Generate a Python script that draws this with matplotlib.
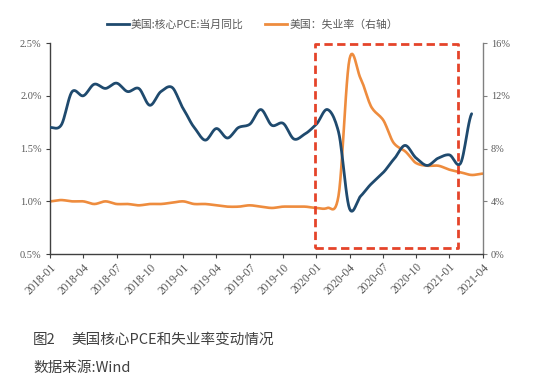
import numpy as np
import matplotlib
matplotlib.use("Agg")
import matplotlib.pyplot as plt
from matplotlib.lines import Line2D

plt.rcParams['font.family'] = ['Noto Sans CJK SC', 'DejaVu Sans']

# ---- data ----
months = ['2018-01','2018-02','2018-03','2018-04','2018-05','2018-06','2018-07','2018-08','2018-09','2018-10','2018-11','2018-12',
          '2019-01','2019-02','2019-03','2019-04','2019-05','2019-06','2019-07','2019-08','2019-09','2019-10','2019-11','2019-12',
          '2020-01','2020-02','2020-03','2020-04','2020-05','2020-06','2020-07','2020-08','2020-09','2020-10','2020-11','2020-12',
          '2021-01','2021-02','2021-03','2021-04']
core_pce = [1.70, 1.72, 2.04, 2.00, 2.11, 2.07, 2.12, 2.04, 2.07, 1.91, 2.04, 2.08,
            1.88, 1.70, 1.58, 1.69, 1.60, 1.70, 1.73, 1.87, 1.72, 1.74, 1.59, 1.64,
            1.73, 1.87, 1.66, 0.93, 1.05, 1.17, 1.27, 1.40, 1.53, 1.41, 1.34, 1.41,
            1.44, 1.36, 1.83]
unemployment = [4.0, 4.1, 4.0, 4.0, 3.8, 4.0, 3.8, 3.8, 3.7, 3.8, 3.8, 3.9,
                4.0, 3.8, 3.8, 3.7, 3.6, 3.6, 3.7, 3.6, 3.5, 3.6, 3.6, 3.6,
                3.5, 3.5, 4.4, 14.8, 13.3, 11.1, 10.2, 8.4, 7.8, 6.9, 6.7, 6.7,
                6.4, 6.2, 6.0, 6.1]
tick_labels = months[::3]
left_ticks = [0.5, 1.0, 1.5, 2.0, 2.5]
right_ticks = [0, 4, 8, 12, 16]
legend_labels = ['美国:核心PCE:当月同比', '美国：失业率（右轴）']
caption_num = '图2'
caption = '美国核心PCE和失业率变动情况'
source = '数据来源:Wind'
highlight_x = [23.9, 36.8]
highlight_y = [0.56, 2.49]

BLUE = '#1F4A6E'
ORANGE = '#EE8C3E'
RED = '#E5442A'
GREY = '#595959'
SERIF = ['Liberation Serif', 'DejaVu Serif']


def smooth(y, n=12):
    """Catmull-Rom style smooth curve through the points (Excel smoothed line)."""
    y = np.asarray(y, float)
    x = np.arange(len(y), dtype=float)
    xs, ys = [], []
    for i in range(len(y) - 1):
        p0 = y[i - 1] if i > 0 else y[i]
        p1, p2 = y[i], y[i + 1]
        p3 = y[i + 2] if i + 2 < len(y) else y[i + 1]
        t = np.linspace(0, 1, n, endpoint=False)
        m1 = (p2 - p0) / 2 * 0.85
        m2 = (p3 - p1) / 2 * 0.85
        h00 = 2*t**3 - 3*t**2 + 1
        h10 = t**3 - 2*t**2 + t
        h01 = -2*t**3 + 3*t**2
        h11 = t**3 - t**2
        xs.extend(x[i] + t)
        ys.extend(h00*p1 + h10*m1 + h01*p2 + h11*m2)
    xs.append(x[-1]); ys.append(y[-1])
    return np.array(xs), np.array(ys)


fig = plt.figure(figsize=(5.43, 3.91), dpi=100)
ax = fig.add_axes([0.092, 0.350, 0.797, 0.540])
ax2 = ax.twinx()

xb, yb = smooth(core_pce)
xo, yo = smooth(unemployment)
ax2.plot(xo, yo, color=ORANGE, lw=1.9, solid_capstyle='round', zorder=2)
ax.plot(xb, yb, color=BLUE, lw=2.0, solid_capstyle='round', zorder=3)
ax.set_zorder(ax2.get_zorder() + 1)
ax.patch.set_visible(False)

ax.set_xlim(0, 39)
ax.set_ylim(0.5, 2.5)
ax2.set_ylim(0, 16)
ax.set_xticks(range(0, 40, 3))
ax.set_xticklabels(tick_labels, rotation=45, ha='right', rotation_mode='anchor',
                   fontsize=8.3, color=GREY, family=SERIF)
ax.set_yticks(left_ticks)
ax.set_yticklabels([f'{v:.1f}%' for v in left_ticks], fontsize=7.5, color=GREY, family=SERIF)
ax2.set_yticks(right_ticks)
ax2.set_yticklabels([f'{v}%' for v in right_ticks], fontsize=7.5, color=GREY, family=SERIF)

for a in (ax, ax2):
    a.spines['top'].set_visible(False)
    for s in ('left', 'right', 'bottom'):
        a.spines[s].set_color('#404040')
        a.spines[s].set_linewidth(1.0)
ax.spines['right'].set_visible(False)
ax2.spines['left'].set_visible(False)
ax2.spines['bottom'].set_visible(False)
ax2.spines['right'].set_color('#808080')
ax.tick_params(axis='x', length=3, width=0.8, color='#404040', pad=2)
ax.tick_params(axis='y', length=3, width=0.8, color='#404040', pad=3)
ax2.tick_params(axis='y', length=3, width=0.8, color='#808080', pad=3)

# highlight box
ax.plot([highlight_x[0], highlight_x[1], highlight_x[1], highlight_x[0], highlight_x[0]],
        [highlight_y[0], highlight_y[0], highlight_y[1], highlight_y[1], highlight_y[0]],
        color=RED, lw=2.0, ls=(0, (3, 1.6)), zorder=5, clip_on=False)

handles = [Line2D([], [], color=BLUE, lw=2), Line2D([], [], color=ORANGE, lw=2)]
leg = fig.legend(handles, legend_labels, loc='center', bbox_to_anchor=(0.465, 0.936),
                 ncol=2, frameon=False, fontsize=7.8, handlelength=2.0, handletextpad=0.2,
                 columnspacing=2.0)
for t in leg.get_texts():
    t.set_color(GREY)

fig.text(0.061, 0.130, caption_num, fontsize=10.5, color='#404040', va='center')
fig.text(0.131, 0.130, caption, fontsize=10.5, color='#404040', va='center')
fig.text(0.061, 0.059, source, fontsize=10.5, color='#404040', va='center')

fig.savefig('out.png', dpi=100)
